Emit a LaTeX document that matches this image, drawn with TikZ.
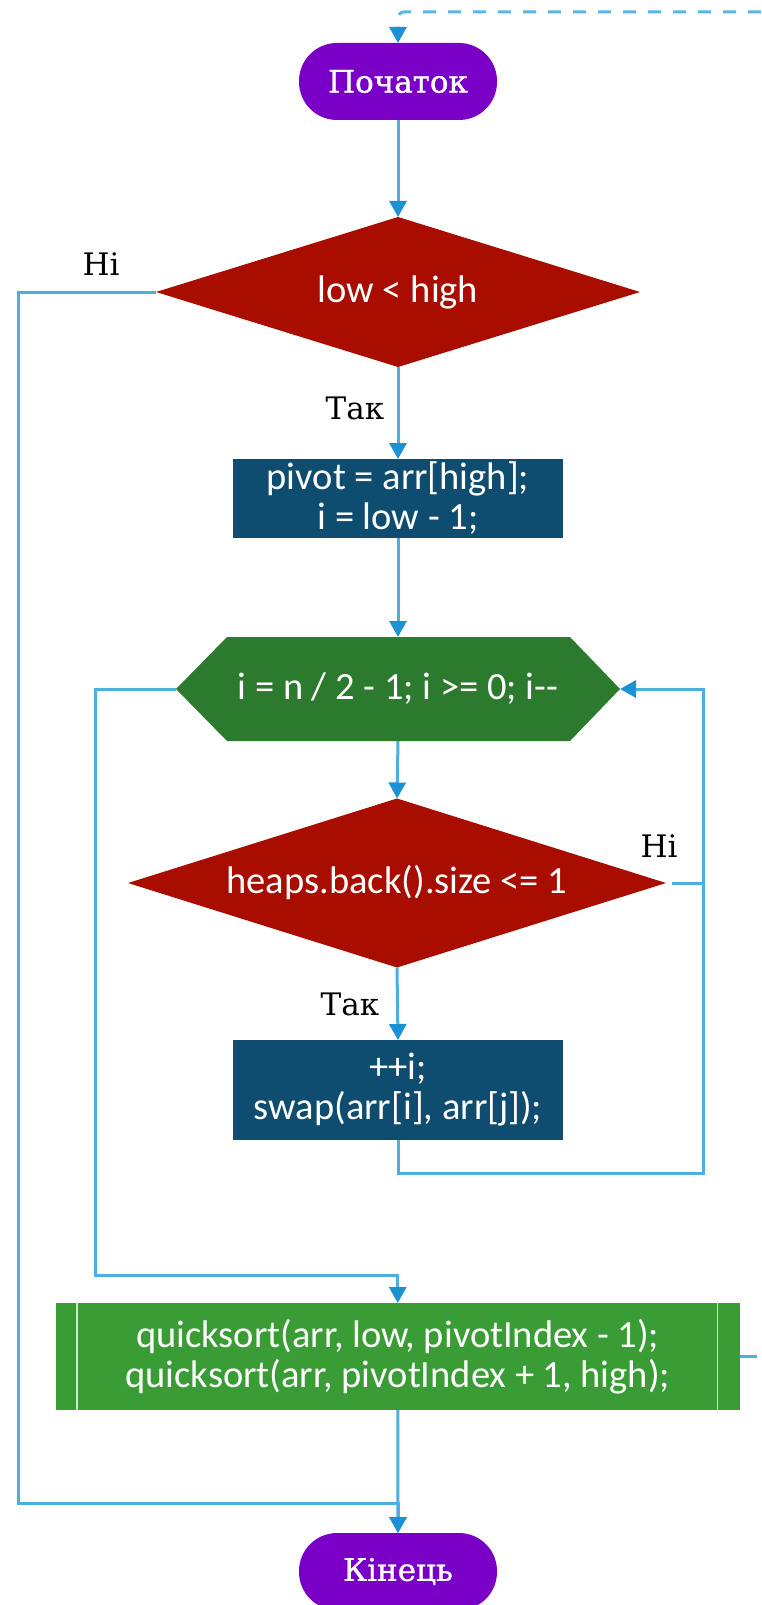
\documentclass[tikz,border=0pt]{standalone}
\usepackage{fontspec}
\setmainfont{DejaVu Serif}
\newfontfamily\codefont{Carlito}
\newfontfamily\termfont[FakeBold=1]{DejaVu Serif}
\usetikzlibrary{arrows.meta,backgrounds}

\definecolor{termpurple}{HTML}{7A00C8}
\definecolor{decred}{HTML}{A80D00}
\definecolor{procblue}{HTML}{0F4D70}
\definecolor{loopgreen}{HTML}{2C7A2E}
\definecolor{subgreen}{HTML}{3A9C35}
\definecolor{subline}{HTML}{CFE8C8}
\definecolor{flowline}{HTML}{4DAEE0}
\definecolor{flowtip}{HTML}{1B92D4}
\definecolor{recline}{HTML}{5BB5E5}

\begin{document}
\begin{tikzpicture}[x=1pt,y=-1pt,
  every node/.style={inner sep=0pt, outer sep=0pt},
  codetext/.style={text=white, align=center, font=\codefont\fontsize{38.5}{40}\selectfont},
  terminal/.style={rectangle, rounded corners=38pt, fill=termpurple, text=white,
    minimum width=198pt, minimum height=77pt, font=\termfont\fontsize{31}{34}\selectfont},
  decision/.style={rectangle, codetext},
  process/.style={rectangle, fill=procblue, codetext, minimum width=330pt},
  loophead/.style={rectangle, codetext, minimum width=444pt, minimum height=104pt},
  subproc/.style={rectangle, fill=subgreen, codetext, minimum width=683.5pt, minimum height=107pt},
  flow/.style={draw=flowline, line width=3pt,
    -{Triangle[width=17pt,length=16pt,color=flowtip]}},
  plainflow/.style={draw=flowline, line width=3pt},
  recflow/.style={draw=recline, line width=3pt, dash pattern=on 13pt off 12pt,
    rounded corners=6pt, -{Triangle[width=17pt,length=16pt,color=flowtip]}},
  answer/.style={font=\fontsize{31}{34}\selectfont, text=black}
]
\useasboundingbox (0,0) rectangle (761,1605);

% blocks
\node[terminal] (start) at (398,81.5) {Початок};
\node[decision, minimum width=484pt, minimum height=150pt] (d1) at (398,292) {low < high};
\node[process, minimum height=79pt] (box1) at (398,498.5) {pivot = arr[high];\\i = low - 1;};
\node[loophead] (hex) at (398,689) {i = n / 2 - 1; i >= 0; i--};
\node[decision, minimum width=538pt, minimum height=169pt] (d2) at (397,883) {heaps.back().size <= 1};
\node[process, minimum height=100pt] (box2) at (398,1090) {++i;\\swap(arr[i], arr[j]);};
\node[subproc] (qs) at (397.75,1356.5) {quicksort(arr, low, pivotIndex - 1);\\quicksort(arr, pivotIndex + 1, high);};
\draw[subline, line width=1.8pt] ([xshift=21pt]qs.north west) -- ([xshift=21pt]qs.south west);
\draw[subline, line width=1.8pt] ([xshift=-22pt]qs.north east) -- ([xshift=-22pt]qs.south east);
\node[terminal] (end) at (398,1571.5) {Кінець};

% outlines of the decision and loop blocks, behind their texts
\begin{pgfonlayer}{background}
  \fill[decred] (d1.west) -- (d1.north) -- (d1.east) -- (d1.south) -- cycle;
  \fill[decred] (d2.west) -- (d2.north) -- (d2.east) -- (d2.south) -- cycle;
  \fill[loopgreen] (hex.west) -- ([xshift=51pt]hex.north west) -- ([xshift=-50pt]hex.north east)
    -- (hex.east) -- ([xshift=-50pt]hex.south east) -- ([xshift=51pt]hex.south west) -- cycle;
\end{pgfonlayer}

% branch labels
\node[answer] (no1) at (101,264) {Ні};
\node[answer] (yes1) at (355,408) {Так};
\node[answer] (no2) at (659,846) {Ні};
\node[answer] (yes2) at (350,1004) {Так};

% waypoints
\coordinate (recur) at (761,12);
\coordinate (outerL) at (18.5,1503);
\coordinate (innerL) at (95,1275);
\coordinate (loopR) at (703,1173);
\coordinate (joinR) at (703,883);
\coordinate (qsout) at (757,1356.5);

% connectors
\draw[recflow] (recur) -| (start.north);
\draw[flow] (start.south) -- (d1.north);
\draw[flow] (d1.south) -- (box1.north);
\draw[flow] (d1.west) -| (outerL) -| (end.north);
\draw[flow] (box1.south) -- (hex.north);
\draw[flow] (hex.south) -- (d2.north);
\draw[flow] (d2.south) -- (box2.north);
\draw[plainflow, shorten <=6pt] (d2.east) -- (joinR);
\draw[flow] (box2.south) |- (loopR) |- (hex.east);
\draw[flow] (hex.west) -| (innerL) -| (qs.north);
\draw[flow] (qs.south) -- (end.north);
\draw[plainflow] (qs.east) -- (qsout);
\end{tikzpicture}
\end{document}
